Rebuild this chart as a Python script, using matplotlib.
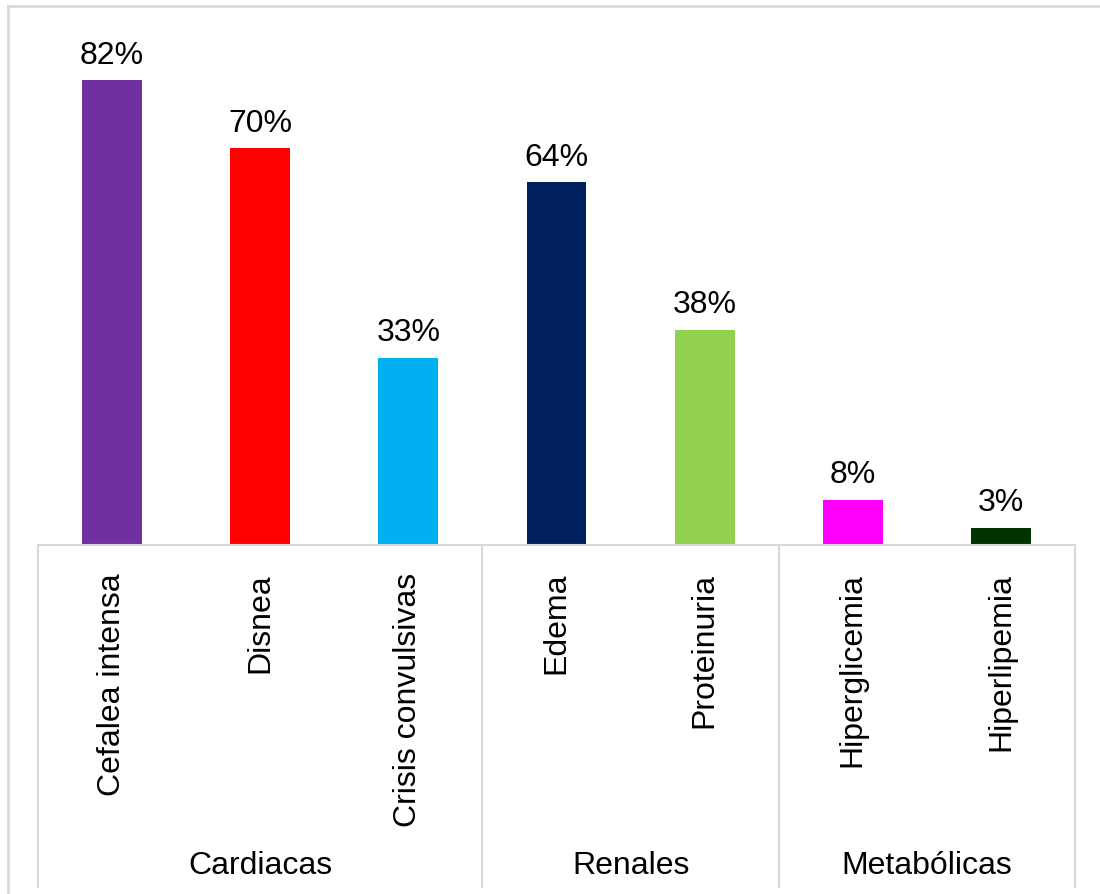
import matplotlib.pyplot as plt
from matplotlib.transforms import blended_transform_factory
from matplotlib.lines import Line2D

plt.rcParams['font.family'] = ['Liberation Sans', 'DejaVu Sans']

sintomas = ["Cefalea intensa", "Disnea", "Crisis convulsivas", "Edema",
            "Proteinuria", "Hiperglicemia", "Hiperlipemia"]
porcentajes = [82, 70, 33, 64, 38, 8, 3]
colores = ["#7030A0", "#FF0000", "#00B0F0", "#002060", "#92D050",
           "#FF00FF", "#003300"]
grupos = ["Cardiacas", "Renales", "Metabólicas"]
tam_grupos = [3, 2, 2]

W, H = 1100, 894
fig = plt.figure(figsize=(W / 100, H / 100), dpi=100)

# area de trazado en pixeles
x0, x1 = 38, 1075
y_base, y_top = 545, 35
ax = fig.add_axes([x0 / W, (H - y_base) / H, (x1 - x0) / W, (y_base - y_top) / H])

FS = 23

x = range(len(sintomas))
ax.bar(x, porcentajes, width=0.405, color=colores)
for xi, v in zip(x, porcentajes):
    ax.annotate(f"{v}%", (xi, v), xytext=(0, 7), textcoords="offset points",
                ha="center", va="bottom", fontsize=FS)

ax.set_xlim(-0.5, len(sintomas) - 0.5)
ax.set_ylim(0, 90)
for s in ["top", "left", "right"]:
    ax.spines[s].set_visible(False)
ax.spines["bottom"].set_color("#D9D9D9")
ax.spines["bottom"].set_linewidth(1.5)
ax.set_xticks([])
ax.set_yticks([])

alto = y_base - y_top
def frac(py):
    return (y_base - py) / alto

tr = blended_transform_factory(ax.transData, ax.transAxes)

# etiquetas de categoria giradas
for xi, nombre in zip(x, sintomas):
    ax.text(xi, frac(573), nombre, rotation=90, ha="center", va="top",
            fontsize=FS, transform=tr)

# separadores y nombres de grupo
inicio = -0.5
bordes = [inicio]
for g, n in zip(grupos, tam_grupos):
    ax.text(inicio + n / 2, frac(866), g, ha="center", va="center",
            fontsize=FS, transform=tr)
    inicio += n
    bordes.append(inicio)
for b in bordes:
    ax.plot([b, b], [0, frac(887)], color="#D9D9D9", lw=1.5,
            transform=tr, clip_on=False)

# marco exterior del grafico
fig.add_artist(Line2D([8 / W, 1], [(H - 5.5) / H] * 2, color="#D9D9D9", lw=2))
fig.add_artist(Line2D([8 / W] * 2, [(H - 5.5) / H, 0], color="#D9D9D9", lw=2))

fig.savefig("out.png", dpi=100)
